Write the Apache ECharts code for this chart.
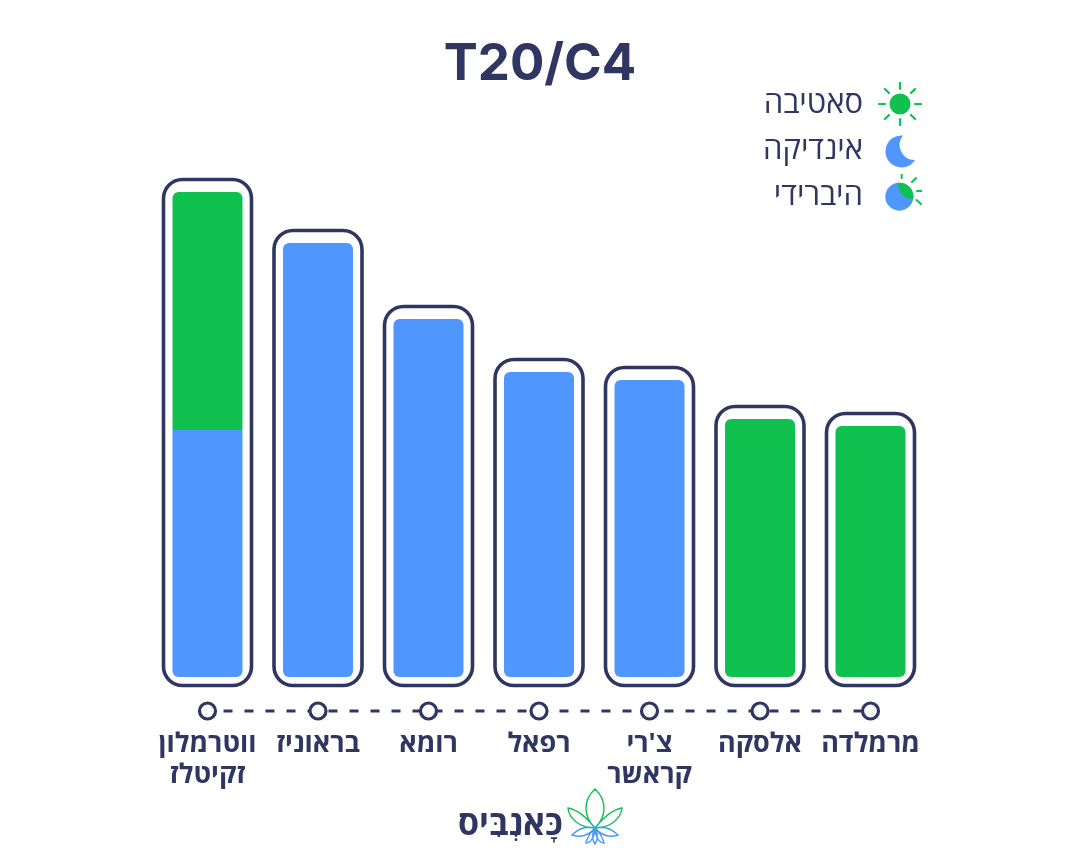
<!DOCTYPE html>
<html lang="he">
<head>
<meta charset="utf-8">
<title>T20/C4</title>
<style>html,body{margin:0;padding:0;background:#fff}#main{width:1080px;height:860px}</style>
</head>
<body>
<div id="main"></div>
<script src="https://cdn.jsdelivr.net/npm/echarts@6/dist/echarts.min.js"></script>
<script>
// data (no scale is printed, units are estimated)
var categories = ['ווטרמלון\nזקיטלז', 'בראוניז', 'רומא', 'רפאל', "צ'רי\nקראשר", 'אלסקה', 'מרמלדה'];
var indica = [12.35, 21.7, 17.9, 15.25, 14.85, null, null];
var sativa = [11.9, null, null, null, null, 12.9, 12.55];
var legendNames = ['סאטיבה', 'אינדיקה', 'היברידי'];

var navy = '#2f3661', blue = '#4f97ff', green = '#10c14f';
var fontName = '"Open Sans","Liberation Sans",sans-serif';
var axisFloor = -1.7;   // the dashed row sits under the bars

var totals = categories.map(function (c, i) { return (indica[i] || 0) + (sativa[i] || 0); });
var timeline = categories.map(function () { return axisFloor; });

function svgUri(body, w, h) {
    return 'data:image/svg+xml,' + encodeURIComponent(
        '<svg xmlns="http://www.w3.org/2000/svg" width="' + w * 3 + '" height="' + h * 3 + '" viewBox="0 0 ' + w + ' ' + h + '">' + body + '</svg>');
}
var rays = '<g stroke="' + green + '" stroke-width="2.2" stroke-linecap="round">' +
    '<path d="M22 1V7M22 37V43M1 22H7M37 22H43M7 7L11 11M37 7L33 11M7 37L11 33M37 37L33 33"/></g>';
var icons = [
    'image://' + svgUri(rays + '<circle cx="22" cy="22" r="10.5" fill="' + green + '"/>', 44, 44),
    'image://' + svgUri('<path fill="' + blue + '" d="M25 7.5A16 16 0 1 0 37 32A15 15 0 0 1 25 7.5Z"/>', 44, 44),
    'image://' + svgUri('<circle cx="21.3" cy="22.7" r="14" fill="' + blue + '"/>' +
        '<path fill="' + green + '" d="M20 8.8A14 14 0 0 1 35.3 25Q21 25 20 8.8Z"/>' +
        '<g stroke="' + green + '" stroke-width="2" stroke-linecap="round">' +
        '<path d="M23.7 0.5V4M34 8L38 4M39 17H44M38.5 26L43 30"/></g>', 44, 44)
];
var leafLogo = svgUri(
    '<defs><linearGradient id="g" x1="0" y1="0" x2="0" y2="1">' +
    '<stop offset="0.55" stop-color="' + green + '"/><stop offset="0.8" stop-color="' + blue + '"/></linearGradient></defs>' +
    '<path fill="none" stroke="url(#g)" stroke-width="1.4" d="' +
    'M28 40C16 28 16 12 28 1C40 12 40 28 28 40Z' +
    'M28 40C20 30 12 22 1 20C2 30 12 40 28 40Z' +
    'M28 40C36 30 44 22 55 20C54 30 44 40 28 40Z' +
    'M28 40C20 38 12 40 5 47C14 50 22 47 28 40Z' +
    'M28 40C36 38 44 40 51 47C42 50 34 47 28 40Z' +
    'M28 40C24 44 20 50 19 55C24 55 28 48 28 40Z' +
    'M28 40C32 44 36 50 37 55C32 55 28 48 28 40Z' +
    'M28 40C25 46 25 52 28 56C31 52 31 46 28 40Z"/>', 56, 57);

// round only the outer corners of the stacked first bar
function barData(values, other, top) {
    return values.map(function (v, i) {
        var r = other[i] == null ? [6, 6, 6, 6] : (top ? [6, 6, 0, 0] : [0, 0, 6, 6]);
        return { value: v, itemStyle: { borderRadius: r } };
    });
}

function renderFrame(params, api) {
    var topPt = api.coord([api.value(0), api.value(1)]);
    var basePt = api.coord([api.value(0), 0]);
    return {
        type: 'rect',
        shape: { x: topPt[0] - 44, y: topPt[1] - 12.5, width: 88, height: basePt[1] - topPt[1] + 21, r: 19 },
        style: { fill: 'none', stroke: navy, lineWidth: 3.6 }
    };
}

var myChart = echarts.init(document.getElementById('main'), null, { renderer: 'canvas' });
myChart.setOption({
    animation: false,
    backgroundColor: '#fff',
    title: {
        text: 'T20/C4',
        left: 'center',
        top: 34,
        textStyle: { color: navy, fontFamily: 'Inter,Roboto,sans-serif', fontWeight: 700, fontSize: 51 }
    },
    legend: {
        orient: 'vertical',
        right: 158,
        top: 82,
        padding: 0,
        align: 'right',
        itemWidth: 44,
        itemHeight: 44,
        itemGap: 2,
        selectedMode: false,
        textStyle: { color: navy, fontFamily: fontName, fontWeight: 500, fontSize: 31, padding: [6, 10, 0, 0] },
        data: legendNames.map(function (n, i) { return { name: n, icon: icons[i] }; })
    },
    grid: { left: 152.25, width: 773.5, top: 77, height: 634 },
    xAxis: {
        type: 'category',
        data: categories,
        axisLine: { show: false },
        axisTick: { show: false },
        axisLabel: {
            interval: 0,
            margin: 18,
            color: navy,
            fontFamily: fontName,
            fontWeight: 700,
            fontSize: 27,
            lineHeight: 31
        }
    },
    yAxis: { type: 'value', min: axisFloor, max: 30, show: false, splitLine: { show: false } },
    series: [
        { name: legendNames[1], type: 'bar', stack: 'a', barWidth: 70, itemStyle: { color: blue }, data: barData(indica, sativa, false) },
        { name: legendNames[0], type: 'bar', stack: 'a', barWidth: 70, itemStyle: { color: green }, data: barData(sativa, indica, true) },
        { name: legendNames[2], type: 'bar', stack: 'a', barWidth: 70, itemStyle: { color: blue }, data: [] },
        {
            type: 'custom',
            renderItem: renderFrame,
            encode: { x: 0, y: 1 },
            clip: false,
            data: totals.map(function (t, i) { return [i, t]; })
        },
        {
            type: 'line',
            data: timeline,
            symbol: 'circle',
            symbolSize: 16,
            showSymbol: true,
            clip: false,
            lineStyle: { color: navy, width: 2.8, type: [9, 12], dashOffset: 5 },
            itemStyle: { color: '#fff', borderColor: navy, borderWidth: 3.2 }
        }
    ],
    graphic: [
        {
            type: 'text',
            left: 458,
            top: 808,
            style: { text: 'כָּאנְבִּיס', fill: navy, font: '700 34px ' + fontName }
        },
        {
            type: 'image',
            left: 567,
            top: 788,
            style: { image: leafLogo, width: 56, height: 57 }
        }
    ]
});
</script>
</body>
</html>
